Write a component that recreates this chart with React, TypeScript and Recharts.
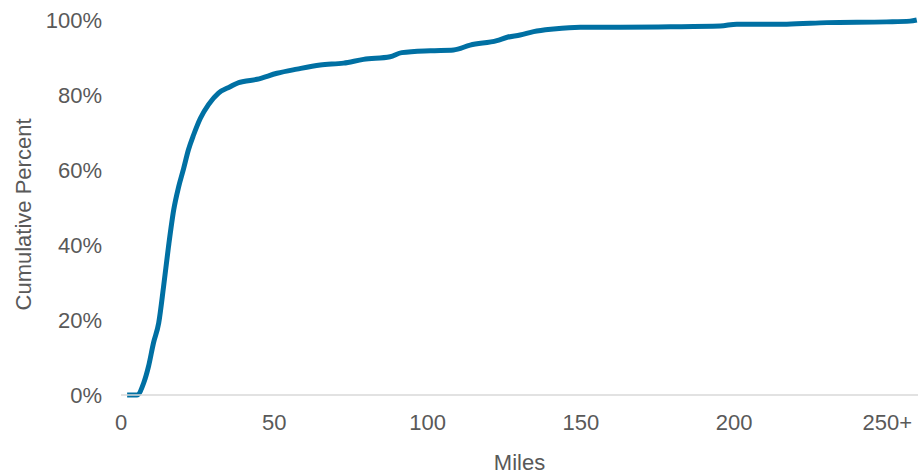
import { LineChart, Line, XAxis, YAxis, Label } from "recharts";

// Distance travelled (miles) and the cumulative share of trips at that distance
const miles = [
  2, 5.2, 7.4, 9, 10.6, 12.3, 13.9, 15.5, 17.2, 18.8, 20.4, 22, 23.7, 25.9, 28.6,
  31.8, 35.6, 38.4, 40, 44.4, 50.9, 57.4, 65, 72.6, 79.1, 87.8, 91.6, 100.9, 108.5,
  113.9, 122.6, 126, 130.2, 134.6, 141.1, 149.8, 162.9, 179.2, 195.5, 200.9, 217.2,
  230.3, 249.8, 257.4, 259.6,
];
const cumulativePct = [
  0, 0, 3.2, 7.7, 13.9, 19.2, 29, 39.6, 49.4, 55.5, 60.3, 65.4, 69.4, 73.8, 77.5,
  80.5, 82.2, 83.3, 83.6, 84.2, 85.8, 86.9, 88, 88.5, 89.5, 90.2, 91.3, 91.8, 92,
  93.3, 94.5, 95.4, 96, 96.9, 97.6, 98.1, 98.1, 98.2, 98.4, 98.9, 98.9,
  99.3, 99.5, 99.7, 100,
];
const mileTicks = [0, 50, 100, 150, 200, 250];
const pctTicks = [0, 20, 40, 60, 80, 100];

const data = miles.map((m, i) => ({ miles: m, pct: cumulativePct[i] }));

const FONT = '"Liberation Sans", Arial, sans-serif';
const TEXT = "#595959";
const tickStyle = { fontSize: 22, fill: TEXT, fontFamily: FONT };

function YTitle({ viewBox }: any) {
  const cy = viewBox.y + viewBox.height / 2 + 7;
  return (
    <text
      x={23}
      y={cy}
      transform={`rotate(-90, 23, ${cy})`}
      textAnchor="middle"
      dominantBaseline="central"
      fontSize={22}
      fill={TEXT}
      fontFamily={FONT}
    >
      Cumulative Percent
    </text>
  );
}

export default function App() {
  return (
    <div style={{ position: "absolute", left: 0, top: 0, width: 919, height: 475, background: "#fff" }}>
      <LineChart width={919} height={475} data={data} margin={{ top: 20, right: 1, left: 0, bottom: 0 }}>
        <XAxis
          dataKey="miles"
          type="number"
          domain={[0, 260]}
          ticks={mileTicks}
          tickFormatter={(v: number) => (v === 250 ? "250+" : String(v))}
          tick={tickStyle}
          tickLine={false}
          tickSize={0}
          tickMargin={19}
          axisLine={{ stroke: "#d9d9d9", strokeWidth: 1.5 }}
          height={80}
          interval={0}
        >
          <Label value="Miles" position="insideBottom" offset={5} style={tickStyle} />
        </XAxis>
        <YAxis
          type="number"
          domain={[0, 100]}
          ticks={pctTicks}
          tickFormatter={(v: number) => `${v}%`}
          tick={tickStyle}
          tickLine={false}
          tickSize={0}
          tickMargin={19}
          axisLine={false}
          width={121}
          interval={0}
        >
          <Label content={<YTitle />} />
        </YAxis>
        <Line
          type="monotone"
          dataKey="pct"
          stroke="#0070a3"
          strokeWidth={5}
          dot={false}
          isAnimationActive={false}
        />
      </LineChart>
    </div>
  );
}
